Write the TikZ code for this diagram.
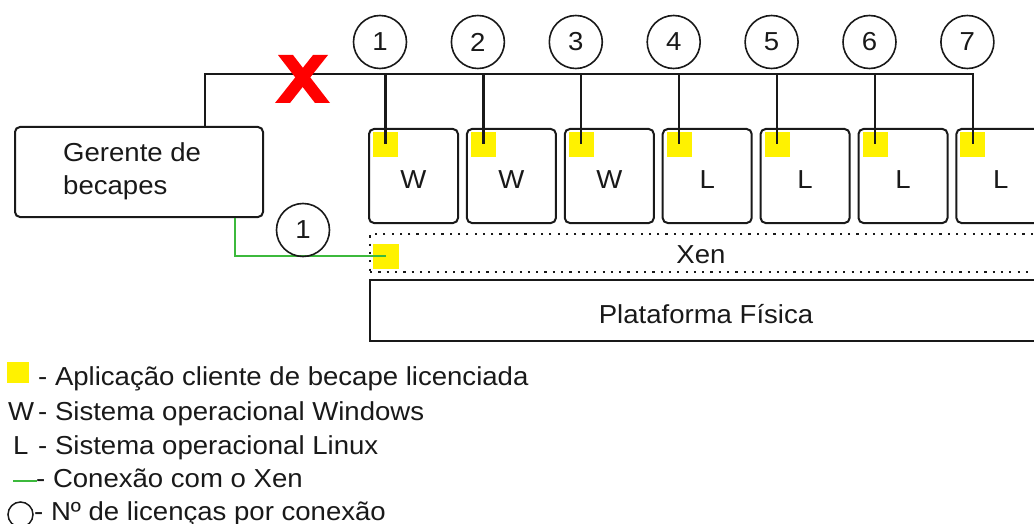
\documentclass[tikz,border=0pt]{standalone}
\usepackage{fontspec}
\setmainfont{Liberation Sans}[FakeStretch=1.06]
\definecolor{gline}{RGB}{60,185,60}
\definecolor{ink}{RGB}{25,25,25}
\begin{document}
\begin{tikzpicture}[x=1pt,y=-1pt,
  every node/.style={font=\fontsize{26}{31}\selectfont, inner sep=0pt, text=ink},
  box/.style={draw=ink, line width=2pt, rounded corners=5pt},
  ylw/.style={fill=yellow, minimum width=25pt, minimum height=25pt},
  num/.style={draw=ink, line width=1.6pt, circle, minimum size=53pt},
  wire/.style={draw=ink, line width=2.2pt},
  gwire/.style={draw=gline, line width=2.2pt},
  xenbox/.style={draw=ink, line width=2.2pt, dash pattern=on 2.2pt off 6.1pt},
  platbox/.style={draw=ink, line width=2pt},
  lbl/.style={anchor=base west}]
\useasboundingbox (0,0) rectangle (1034,524);
\clip (0,0) rectangle (1034,524);

% backup manager
\node[box, minimum width=248pt, minimum height=90pt] (ger) at (139,172) {};
\node[lbl] (ger1) at (63,162) {Gerente de};
\node[lbl] (ger2) at (63,195) {becapes};

% virtual machines
\foreach \i/\t in {1/W,2/W,3/W,4/L,5/L,6/L,7/L} {
  \pgfmathsetmacro\l{369+97.9*(\i-1)}
  \node[box, minimum width=89pt, minimum height=94pt] (vm\i) at (\l+44.5,176) {};
  \node[ylw] (y\i) at (\l+16.5,144.5) {};
  \node[anchor=base] (os\i) at (\l+44.5,189) {\t};
  \node[num] (n\i) at (\l+11,42) {\i};
}

% Xen layer
\node[xenbox, minimum width=690pt, minimum height=38pt, anchor=north west] (xen) at (369,233) {};
\node[anchor=base] (xent) at (701,263) {Xen};
\node[ylw, minimum width=26pt] (yx) at (386,256) {};

% physical platform
\node[platbox, minimum width=690pt, minimum height=61pt, anchor=north west] (plat) at (369,279) {};
\node[anchor=base] (platt) at (706,323) {Plataforma Física};

% bus
\coordinate (busL) at (205,74);
\draw[wire] (ger.north -| busL) -- (busL) -- (busL -| y7.center) -- (y7.center);
\foreach \i in {1,...,6} \draw[wire] (busL -| y\i.center) -- (y\i.center);

% red X
\fill[red] (278,55) -- (293,55) -- (330,103) -- (315,103) -- cycle;
\fill[red] (313,55) -- (328,55) -- (290,103) -- (275,103) -- cycle;

% green connection
\coordinate (gx) at (235,0);
\draw[gwire] (ger.south -| gx) |- (yx.center);
\node[num] (nx) at (303,230) {1};

% legend
\node[ylw, minimum width=22pt, minimum height=21pt] (ly) at (18,372.5) {};
\node[lbl] (l1) at (38,385) {- Aplicação cliente de becape licenciada};
\node[lbl] (lw) at (8,420) {W};
\node[lbl] (l2) at (38,420) {- Sistema operacional Windows};
\node[lbl] (ll) at (13,454) {L};
\node[lbl] (l3) at (38,454) {- Sistema operacional Linux};
\coordinate (lga) at (13,481);
\coordinate (lgb) at (37,481);
\draw[gwire] (lga) -- (lgb);
\node[lbl] (l4) at (36,487) {- Conexão com o Xen};
\node[circle, draw=ink, line width=1.5pt, minimum size=25pt] (lc) at (20.5,514.5) {};
\node[lbl] (l5) at (34,520) {- Nº de licenças por conexão};
\end{tikzpicture}
\end{document}
